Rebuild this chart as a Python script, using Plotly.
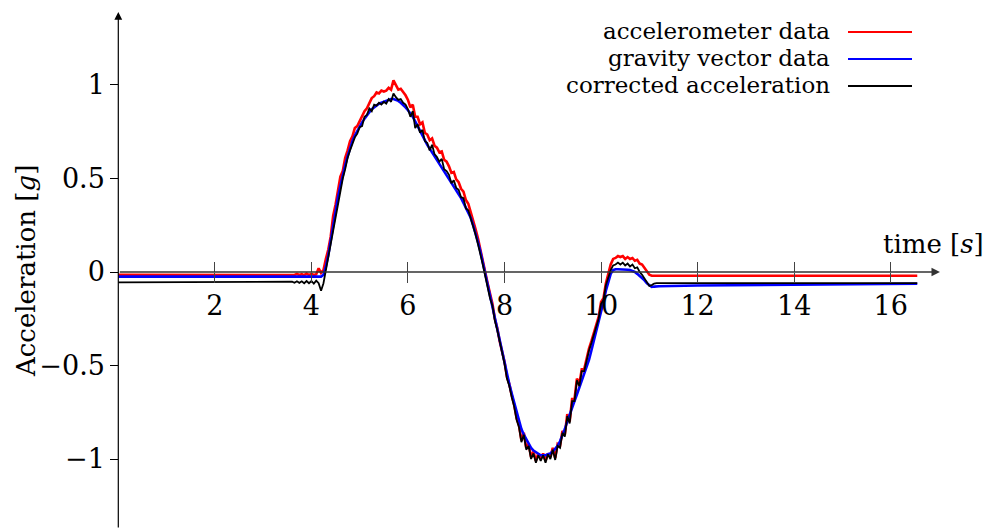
import numpy as np
import plotly.graph_objects as go

# ---- sample instants [s] ----
time_lead = [0.0, 1.0, 2.0, 3.0]
time_motion = np.round(np.arange(3.50, 11.2001, 0.05), 2).tolist()   # 3.50 ... 11.20
time_tail = [12.0, 13.0, 14.0, 15.0, 16.0, 16.55]
time_s = time_lead + time_motion + time_tail

# ---- accelerometer data [g] ----
accel_raw = [
    -0.015, -0.015, -0.015, -0.015,
    # 3.50 - 3.95
    -0.015, -0.015, -0.012, -0.016, -0.010, -0.016, -0.012, -0.017, -0.008, -0.016,
    # 4.00 - 4.45
    -0.010, -0.016, -0.012, 0.020, -0.005, 0.010, 0.070, 0.120, 0.190, 0.300,
    # 4.50 - 4.95
    0.360, 0.430, 0.510, 0.540, 0.610, 0.650, 0.700, 0.725, 0.770, 0.780,
    # 5.00 - 5.45
    0.810, 0.830, 0.860, 0.875, 0.900, 0.930, 0.940, 0.960, 0.955, 0.970,
    # 5.50 - 5.95
    0.965, 0.970, 0.985, 0.975, 1.025, 1.000, 0.975, 0.980, 0.965, 0.945,
    # 6.00 - 6.45
    0.920, 0.880, 0.895, 0.830, 0.830, 0.790, 0.800, 0.745, 0.735, 0.705,
    # 6.50 - 6.95
    0.715, 0.675, 0.665, 0.640, 0.645, 0.600, 0.590, 0.565, 0.530, 0.535,
    # 7.00 - 7.45
    0.495, 0.480, 0.445, 0.430, 0.385, 0.365, 0.320, 0.280, 0.230, 0.180,
    # 7.50 - 7.95
    0.125, 0.065, 0.000, -0.060, -0.120, -0.170, -0.250, -0.300, -0.370, -0.430,
    # 8.00 - 8.45
    -0.480, -0.560, -0.600, -0.660, -0.710, -0.780, -0.820, -0.900, -0.860, -0.940,
    # 8.50 - 8.95
    -0.920, -0.990, -0.960, -1.010, -0.970, -1.000, -0.970, -1.010, -0.970, -0.990,
    # 9.00 - 9.45
    -0.940, -0.995, -0.920, -0.930, -0.850, -0.870, -0.760, -0.800, -0.680, -0.680,
    # 9.50 - 9.95
    -0.570, -0.600, -0.520, -0.520, -0.460, -0.410, -0.370, -0.330, -0.280, -0.240,
    # 10.00 - 10.45
    -0.160, -0.140, -0.060, -0.010, 0.040, 0.070, 0.075, 0.085, 0.080, 0.085,
    # 10.50 - 10.95
    0.070, 0.080, 0.070, 0.075, 0.060, 0.065, 0.045, 0.040, 0.020, 0.000,
    # 11.00 - 11.20
    -0.015, -0.020, -0.020, -0.020, -0.020,
    -0.020, -0.020, -0.020, -0.020, -0.020, -0.020,
]

# ---- gravity vector data [g] ----
gravity = [
    -0.025, -0.025, -0.025, -0.025,
    # 3.50 - 3.95
    -0.025, -0.025, -0.025, -0.025, -0.025, -0.025, -0.025, -0.025, -0.025, -0.025,
    # 4.00 - 4.45
    -0.025, -0.025, -0.025, -0.025, -0.025, -0.015, 0.030, 0.090, 0.170, 0.260,
    # 4.50 - 4.95
    0.330, 0.400, 0.460, 0.520, 0.570, 0.620, 0.665, 0.700, 0.730, 0.755,
    # 5.00 - 5.45
    0.780, 0.800, 0.820, 0.840, 0.855, 0.870, 0.880, 0.890, 0.900, 0.905,
    # 5.50 - 5.95
    0.910, 0.915, 0.920, 0.925, 0.925, 0.920, 0.915, 0.905, 0.895, 0.880,
    # 6.00 - 6.45
    0.865, 0.850, 0.830, 0.805, 0.780, 0.750, 0.725, 0.700, 0.680, 0.660,
    # 6.50 - 6.95
    0.640, 0.620, 0.600, 0.580, 0.560, 0.540, 0.520, 0.500, 0.480, 0.460,
    # 7.00 - 7.45
    0.440, 0.420, 0.395, 0.370, 0.345, 0.320, 0.290, 0.250, 0.210, 0.160,
    # 7.50 - 7.95
    0.110, 0.050, -0.010, -0.070, -0.130, -0.190, -0.250, -0.300, -0.360, -0.420,
    # 8.00 - 8.45
    -0.480, -0.540, -0.600, -0.650, -0.700, -0.750, -0.800, -0.840, -0.870, -0.895,
    # 8.50 - 8.95
    -0.920, -0.940, -0.955, -0.965, -0.975, -0.980, -0.980, -0.980, -0.975, -0.970,
    # 9.00 - 9.45
    -0.960, -0.945, -0.930, -0.905, -0.875, -0.840, -0.800, -0.760, -0.725, -0.690,
    # 9.50 - 9.95
    -0.655, -0.620, -0.585, -0.550, -0.510, -0.470, -0.420, -0.370, -0.320, -0.270,
    # 10.00 - 10.45
    -0.215, -0.160, -0.100, -0.050, -0.010, 0.010, 0.015, 0.015, 0.015, 0.015,
    # 10.50 - 10.95
    0.015, 0.012, 0.010, 0.005, 0.000, -0.010, -0.020, -0.035, -0.045, -0.060,
    # 11.00 - 11.20
    -0.070, -0.080, -0.078, -0.077, -0.076,
    -0.072, -0.070, -0.068, -0.066, -0.064, -0.063,
]

# ---- corrected acceleration [g] ----
corrected = [
    -0.055, -0.055, -0.055, -0.055,
    # 3.50 - 3.95
    -0.055, -0.056, -0.052, -0.058, -0.050, -0.058, -0.050, -0.060, -0.048, -0.060,
    # 4.00 - 4.45
    -0.048, -0.062, -0.046, -0.060, -0.100, -0.060, 0.010, 0.070, 0.140, 0.230,
    # 4.50 - 4.95
    0.300, 0.370, 0.440, 0.500, 0.550, 0.610, 0.650, 0.690, 0.720, 0.740,
    # 5.00 - 5.45
    0.775, 0.780, 0.830, 0.840, 0.875, 0.860, 0.895, 0.890, 0.905, 0.895,
    # 5.50 - 5.95
    0.910, 0.900, 0.925, 0.910, 0.955, 0.935, 0.920, 0.925, 0.905, 0.895,
    # 6.00 - 6.45
    0.870, 0.830, 0.860, 0.770, 0.790, 0.745, 0.760, 0.700, 0.690, 0.650,
    # 6.50 - 6.95
    0.680, 0.630, 0.615, 0.590, 0.605, 0.550, 0.540, 0.520, 0.475, 0.490,
    # 7.00 - 7.45
    0.450, 0.440, 0.400, 0.395, 0.340, 0.330, 0.290, 0.240, 0.200, 0.150,
    # 7.50 - 7.95
    0.100, 0.040, -0.020, -0.080, -0.140, -0.180, -0.260, -0.310, -0.370, -0.440,
    # 8.00 - 8.45
    -0.490, -0.570, -0.610, -0.670, -0.720, -0.790, -0.830, -0.910, -0.870, -0.950,
    # 8.50 - 8.95
    -0.930, -1.000, -0.970, -1.020, -0.980, -1.010, -0.980, -1.020, -0.975, -1.000,
    # 9.00 - 9.45
    -0.950, -1.005, -0.930, -0.940, -0.860, -0.880, -0.770, -0.810, -0.690, -0.690,
    # 9.50 - 9.95
    -0.580, -0.610, -0.530, -0.530, -0.470, -0.420, -0.380, -0.340, -0.290, -0.250,
    # 10.00 - 10.45
    -0.170, -0.150, -0.070, -0.030, 0.010, 0.035, 0.040, 0.050, 0.040, 0.050,
    # 10.50 - 10.95
    0.035, 0.045, 0.030, 0.040, 0.020, 0.025, 0.000, -0.015, -0.035, -0.055,
    # 11.00 - 11.20
    -0.075, -0.070, -0.062, -0.060, -0.060,
    -0.060, -0.060, -0.060, -0.060, -0.060, -0.060,
]

assert len(time_s) == len(accel_raw) == len(gravity) == len(corrected)

# ---- axes / labels ----
x_ticks = [2, 4, 6, 8, 10, 12, 14, 16]
y_ticks = [-1, -0.5, 0, 0.5, 1]
y_tick_text = ["\u22121", "\u22120.5", "0", "0.5", "1"]
series_names = ["accelerometer data", "gravity vector data", "corrected acceleration"]
series_colors = ["#ff0000", "#0000ff", "#000000"]
series_widths = [2.6, 2.6, 1.8]

X_RANGE = [-2.4506, 18.036]
Y_RANGE = [-1.3743, 1.4545]
X_ARROW_END = 17.02
Y_ARROW_END = 1.39

W, H = 989, 529
FONT = "DejaVu Serif"

fig = go.Figure()
for vals, name, col, lw in zip([accel_raw, gravity, corrected], series_names,
                                series_colors, series_widths):
    fig.add_trace(go.Scatter(x=time_s, y=vals, mode="lines", name=name,
                             line=dict(color=col, width=lw), showlegend=False))

# empty trace so the upper tick half (second x axis) is rendered
fig.add_trace(go.Scatter(x=[None], y=[None], xaxis="x2", mode="lines",
                         showlegend=False, hoverinfo="skip"))

x_axis_pos = (0 - Y_RANGE[0]) / (Y_RANGE[1] - Y_RANGE[0])
y_axis_pos = (0 - X_RANGE[0]) / (X_RANGE[1] - X_RANGE[0])

common_x = dict(range=X_RANGE, showgrid=False, zeroline=False, showline=False,
                tickvals=x_ticks, tickwidth=1.2, tickcolor="#444444",
                ticklen=10, anchor="free", position=x_axis_pos)

fig.update_layout(
    width=W, height=H,
    margin=dict(l=0, r=0, t=0, b=0),
    paper_bgcolor="white", plot_bgcolor="white",
    showlegend=False,
    font=dict(family=FONT, color="black"),
    xaxis=dict(**common_x, ticks="outside",
               tickfont=dict(family=FONT, size=27, color="black")),
    xaxis2=dict(**common_x, ticks="inside", overlaying="x", side="bottom",
                showticklabels=False),
    yaxis=dict(range=Y_RANGE, showgrid=False, zeroline=False, showline=False,
               tickvals=y_ticks, ticktext=y_tick_text, ticks="outside",
               ticklen=8, tickwidth=1.2, tickcolor="black",
               tickfont=dict(family=FONT, size=27, color="black"),
               anchor="free", position=y_axis_pos),
)

annotations = [
    # y axis with arrow
    dict(x=0, y=Y_ARROW_END, ax=0, ay=Y_RANGE[0], xref="x", yref="y",
         axref="x", ayref="y", text="", showarrow=True, arrowhead=2,
         arrowsize=1.3, arrowwidth=1.2, arrowcolor="black", standoff=0),
    # x axis with arrow
    dict(x=X_ARROW_END, y=0, ax=0, ay=0, xref="x", yref="y",
         axref="x", ayref="y", text="", showarrow=True, arrowhead=2,
         arrowsize=1.3, arrowwidth=1.3, arrowcolor="#333333", standoff=0),
    dict(text="Acceleration [<i>g</i>]", textangle=-90, x=26 / W, y=1 - 271 / H,
         xanchor="center", yanchor="middle",
         xref="paper", yref="paper", showarrow=False,
         font=dict(family=FONT, size=26, color="black")),
    dict(text="time [<i>s</i>]", x=986 / W, y=1 - 244 / H, xanchor="right",
         yanchor="middle", xref="paper", yref="paper", showarrow=False,
         font=dict(family=FONT, size=26, color="black")),
]

# legend: right-aligned text with a short line sample after it
legend_rows_px = [32, 59, 86]
shapes = []
for name, col, row in zip(series_names, series_colors, legend_rows_px):
    annotations.append(dict(text=name, x=831 / W, y=1 - (row - 1) / H,
                            xanchor="right", yanchor="middle", borderpad=0,
                            xref="paper", yref="paper", showarrow=False,
                            font=dict(family=FONT, size=23, color="black")))
    shapes.append(dict(type="line", xref="paper", yref="paper",
                       x0=848 / W, x1=912 / W, y0=1 - row / H, y1=1 - row / H,
                       line=dict(color=col, width=2.2)))

fig.update_layout(annotations=annotations, shapes=shapes)

fig.write_html("out.html")
